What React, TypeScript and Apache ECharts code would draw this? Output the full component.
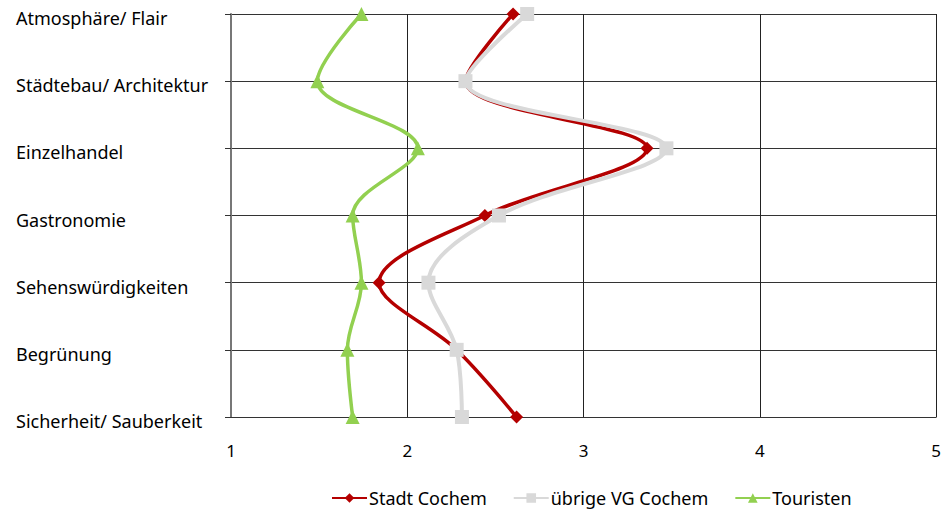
import React, { useEffect, useRef } from "react";
import * as echarts from "echarts";

const categories = [
  "Atmosphäre/ Flair",
  "Städtebau/ Architektur",
  "Einzelhandel",
  "Gastronomie",
  "Sehenswürdigkeiten",
  "Begrünung",
  "Sicherheit/ Sauberkeit",
];
const stadtCochem = [2.6, 2.33, 3.36, 2.44, 1.84, 2.28, 2.62];
const uebrigeVG = [2.68, 2.33, 3.47, 2.52, 2.12, 2.28, 2.31];
const touristen = [1.74, 1.49, 2.06, 1.69, 1.74, 1.66, 1.69];
const xTicks = [1, 2, 3, 4, 5];

const FONT = "Noto Sans";

export default function App() {
  const ref = useRef<HTMLDivElement>(null);
  useEffect(() => {
    if (!ref.current) return;
    const chart = echarts.init(ref.current, undefined, { renderer: "svg" });
    chart.setOption({
      animation: false,
      backgroundColor: "#ffffff",
      grid: { left: 231, right: 6, top: 14, bottom: 93, containLabel: false },
      legend: {
        top: 484,
        left: 326,
        itemWidth: 35,
        itemHeight: 12,
        itemGap: 26,
        textStyle: { fontFamily: FONT, fontSize: 18, color: "#000", padding: [0, 0, 0, -3] },
        data: ["Stadt Cochem", "übrige VG Cochem", "Touristen"],
      },
      xAxis: {
        type: "value",
        min: xTicks[0],
        max: xTicks[xTicks.length - 1],
        interval: 1,
        axisLine: { show: true, lineStyle: { color: "#333", width: 1 } },
        axisTick: { show: false },
        axisLabel: {
          margin: 25,
          fontFamily: FONT,
          fontSize: 17,
          color: "#000",
        },
        splitLine: { show: true, lineStyle: { color: "#222", width: 1 } },
      },
      yAxis: {
        type: "category",
        data: categories,
        inverse: true,
        boundaryGap: false,
        axisLine: { show: true, lineStyle: { color: "#777", width: 2 } },
        axisTick: { show: true, inside: false, length: 6, lineStyle: { color: "#333", width: 1 } },
        axisLabel: {
          align: "left",
          verticalAlign: "top",
          lineHeight: 8,
          margin: 215,
          fontFamily: FONT,
          fontSize: 18,
          color: "#000",
        },
        splitLine: { show: true, lineStyle: { color: "#333", width: 1 } },
      },
      series: [
        {
          name: "Stadt Cochem",
          type: "line",
          data: stadtCochem,
          smooth: 0.35,
          symbol: "diamond",
          symbolSize: 13,
          z: 3,
          lineStyle: { color: "#B40000", width: 3.5 },
          itemStyle: { color: "#B40000" },
        },
        {
          name: "übrige VG Cochem",
          type: "line",
          data: uebrigeVG,
          smooth: 0.35,
          symbol: "rect",
          symbolSize: 14,
          z: 4,
          lineStyle: { color: "#D9D9D9", width: 4 },
          itemStyle: { color: "#D9D9D9" },
        },
        {
          name: "Touristen",
          type: "line",
          data: touristen,
          smooth: 0.35,
          symbol: "triangle",
          symbolSize: 14,
          z: 5,
          lineStyle: { color: "#92D050", width: 3.5 },
          itemStyle: { color: "#92D050" },
        },
      ],
    });
    return () => chart.dispose();
  }, []);
  return <div ref={ref} style={{ width: 944, height: 510, position: "absolute", left: 0, top: 0 }} />;
}
